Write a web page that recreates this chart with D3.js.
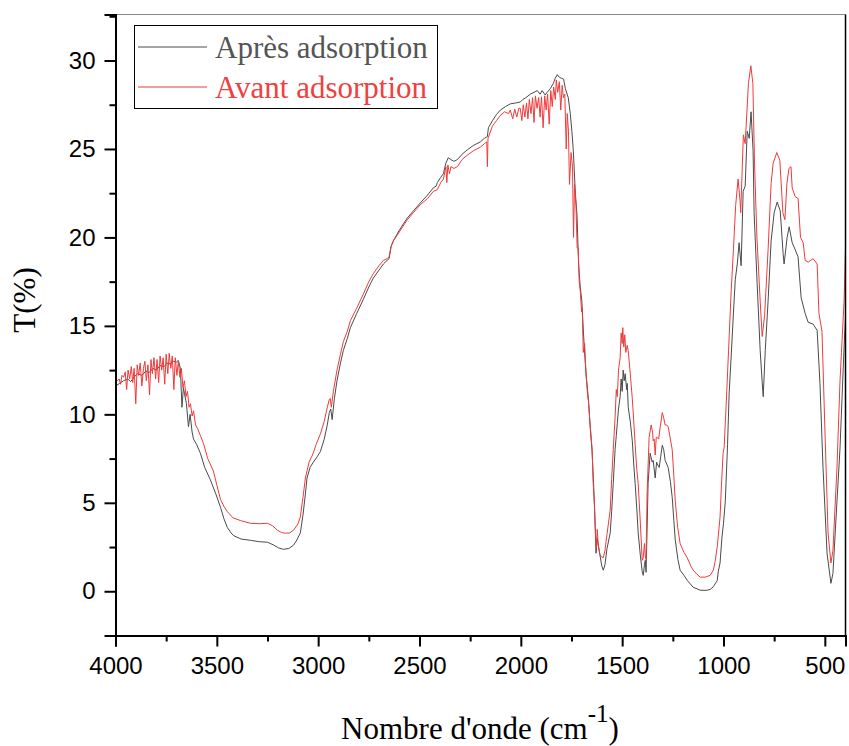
<!DOCTYPE html>
<html>
<head>
<meta charset="utf-8">
<script src="https://cdn.jsdelivr.net/npm/d3@7"></script>
<style>
  html, body { margin: 0; padding: 0; background: #fff; }
  svg { display: block; }
</style>
</head>
<body>
<svg id="chart" width="849" height="746"></svg>
<script>
// spectre IR : [nombre d'onde, T(%)]
const apres = [
  [4000, 11.6], [3980, 11.75], [3960, 11.9], [3940, 12.0], [3925, 11.85], [3905, 12.15], [3890, 12.3],
  [3870, 12.2], [3850, 12.45], [3835, 12.35], [3815, 12.6], [3800, 12.5], [3780, 12.75], [3760, 12.7],
  [3745, 12.9], [3730, 12.85], [3715, 13.0], [3700, 12.95], [3690, 13.05], [3680, 12.6], [3672, 10.4],
  [3665, 11.5], [3660, 11.2], [3650, 10.6], [3640, 9.3], [3632, 10.0], [3622, 9.0], [3615, 8.6],
  [3600, 8.3], [3581, 7.8], [3560, 7.0], [3532, 6.3], [3505, 5.5], [3482, 4.75], [3465, 4.1],
  [3448, 3.6], [3430, 3.3], [3418, 3.15], [3380, 2.95], [3334, 2.88], [3290, 2.8], [3250, 2.77],
  [3221, 2.62], [3195, 2.45], [3171, 2.37], [3145, 2.42], [3122, 2.6], [3105, 2.9], [3088, 3.3],
  [3075, 4.3], [3063, 5.5], [3055, 6.4], [3040, 7.0], [3024, 7.3], [3005, 7.6], [2989, 7.9],
  [2970, 8.6], [2955, 9.4], [2945, 10.1], [2938, 10.3], [2931, 9.7], [2920, 10.9], [2907, 11.9],
  [2890, 12.9], [2876, 13.6], [2856, 14.3], [2841, 14.9], [2810, 15.7], [2777, 16.5], [2750, 17.2],
  [2728, 17.7], [2700, 18.15], [2678, 18.5], [2660, 18.7], [2650, 18.8], [2640, 19.5], [2629, 19.8],
  [2600, 20.4], [2560, 21.1], [2530, 21.5], [2496, 21.95], [2460, 22.4], [2432, 22.8], [2418, 22.9],
  [2412, 23.1], [2395, 23.4], [2382, 23.6], [2370, 24.2], [2358, 24.5], [2345, 24.4], [2330, 24.3],
  [2313, 24.4], [2290, 24.7], [2264, 24.95], [2234, 25.2], [2200, 25.4], [2180, 25.6], [2165, 25.7],
  [2160, 26.2], [2140, 26.6], [2120, 26.95], [2101, 27.2], [2075, 27.4], [2052, 27.55], [2025, 27.6],
  [2003, 27.65], [1990, 27.8], [1975, 27.9], [1953, 28.1], [1935, 28.2], [1919, 28.3], [1905, 28.1],
  [1895, 28.3], [1880, 28.05], [1870, 28.2], [1855, 28.4], [1840, 28.7], [1830, 29.0], [1820, 29.2],
  [1810, 29.05], [1800, 29.0], [1789, 28.95], [1780, 28.4], [1766, 27.9], [1756, 27.0], [1748, 26.0],
  [1741, 24.9], [1731, 22.5], [1723, 21.3], [1715, 18.5], [1707, 17.2], [1699, 16.4], [1691, 14.6],
  [1682, 12.9], [1675, 11.9], [1666, 10.8], [1658, 9.3], [1649, 8.0], [1641, 6.1], [1633, 3.6],
  [1629, 2.15], [1623, 3.0], [1612, 2.2], [1600, 1.4], [1593, 1.19], [1585, 1.5], [1575, 2.4],
  [1559, 3.3], [1552, 4.5], [1544, 6.1], [1535, 8.0], [1529, 8.8], [1524, 9.5], [1518, 10.3],
  [1510, 11.0], [1505, 12.0], [1500, 11.3], [1495, 12.5], [1490, 11.9], [1485, 12.3], [1478, 11.4],
  [1475, 11.75], [1470, 10.4], [1460, 9.6], [1450, 8.5], [1443, 7.2], [1436, 6.1], [1428, 4.7],
  [1421, 3.3], [1410, 2.0], [1401, 1.1], [1396, 0.9], [1390, 1.5], [1386, 1.75], [1382, 1.07],
  [1377, 3.5], [1372, 6.1], [1362, 7.8], [1352, 7.3], [1347, 7.4], [1337, 6.4], [1330, 7.3],
  [1327, 7.2], [1317, 7.0], [1310, 7.6], [1302, 8.25], [1295, 8.0], [1288, 7.4], [1273, 7.0],
  [1262, 6.2], [1253, 5.3], [1245, 4.0], [1238, 2.9], [1225, 1.8], [1214, 1.19], [1195, 0.9],
  [1179, 0.62], [1150, 0.23], [1115, 0.06], [1085, 0.05], [1066, 0.1], [1051, 0.25], [1031, 0.6],
  [1026, 1.1], [1017, 1.6], [1008, 3.0], [1000, 3.84], [991, 5.1], [980, 8.3], [972, 11.2],
  [962, 13.3], [952, 15.5], [942, 17.6], [932, 18.5], [923, 19.7], [913, 18.4], [903, 22.6],
  [893, 22.9], [883, 26.0], [873, 25.6], [864, 27.1], [854, 24.9], [849, 21.4], [834, 17.4],
  [819, 13.6], [809, 11.8], [804, 11.0], [794, 13.6], [780, 16.4], [765, 19.8], [750, 21.4],
  [735, 22.0], [720, 21.5], [706, 19.1], [701, 18.5], [686, 20.0], [676, 20.6], [661, 19.7],
  [646, 19.3], [632, 18.9], [617, 16.6], [597, 15.7], [582, 15.2], [558, 15.1], [538, 14.75],
  [524, 11.75], [509, 7.0], [489, 2.15], [470, 0.45], [460, 1.0], [440, 5.1], [425, 8.1],
  [405, 13.8], [398, 15.5]
];

const avant = [
  [4000, 11.8], [3990, 11.9], [3982, 12.0], [3975, 11.7], [3968, 12.2], [3960, 12.1], [3952, 12.4],
  [3945, 11.4], [3938, 12.5], [3930, 12.0], [3922, 12.7], [3915, 11.8], [3908, 12.6], [3900, 10.6],
  [3893, 12.8], [3886, 12.2], [3878, 12.9], [3870, 11.6], [3862, 12.6], [3855, 13.0], [3848, 11.9],
  [3840, 12.8], [3832, 11.1], [3825, 13.1], [3818, 12.3], [3810, 13.2], [3802, 12.0], [3795, 13.1],
  [3787, 11.8], [3780, 13.3], [3772, 12.5], [3765, 13.2], [3757, 11.7], [3750, 13.4], [3742, 12.3],
  [3735, 13.45], [3727, 12.6], [3720, 13.3], [3712, 11.4], [3705, 13.2], [3697, 12.2], [3690, 13.0],
  [3682, 12.1], [3675, 12.6], [3667, 11.5], [3660, 11.9], [3652, 11.0], [3645, 11.3], [3637, 10.4],
  [3630, 10.6], [3622, 9.9], [3615, 10.2], [3605, 9.4], [3595, 9.2], [3581, 8.8], [3566, 8.36],
  [3545, 7.5], [3517, 6.8], [3500, 6.0], [3482, 5.2], [3465, 4.8], [3448, 4.5], [3420, 4.15],
  [3384, 4.0], [3334, 3.84], [3290, 3.82], [3250, 3.84], [3225, 3.7], [3201, 3.45], [3180, 3.32],
  [3162, 3.28], [3140, 3.3], [3122, 3.45], [3100, 3.8], [3088, 4.2], [3075, 5.3], [3063, 6.4],
  [3045, 7.3], [3028, 7.7], [3010, 8.3], [2989, 8.9], [2970, 9.6], [2955, 10.4], [2945, 10.85],
  [2940, 10.9], [2935, 10.4], [2925, 11.3], [2907, 12.5], [2890, 13.4], [2876, 14.1], [2856, 14.7],
  [2841, 15.3], [2810, 16.0], [2777, 16.8], [2750, 17.5], [2728, 17.95], [2700, 18.4], [2678, 18.7],
  [2660, 18.8], [2650, 18.9], [2640, 19.5], [2629, 19.8], [2600, 20.3], [2560, 21.0], [2530, 21.4],
  [2496, 21.85], [2460, 22.2], [2432, 22.6], [2412, 22.7], [2395, 23.1], [2382, 23.3], [2370, 24.0],
  [2365, 23.1], [2360, 24.1], [2352, 23.6], [2345, 24.0], [2330, 23.9], [2313, 24.0], [2290, 24.4],
  [2264, 24.65], [2234, 24.9], [2200, 25.1], [2180, 25.3], [2168, 25.4], [2165, 24.0], [2162, 25.6],
  [2140, 26.3], [2120, 26.6], [2101, 26.9], [2080, 27.1], [2060, 27.0], [2052, 27.2], [2040, 26.7],
  [2030, 27.25], [2020, 26.8], [2010, 27.3], [2003, 27.3], [1995, 26.6], [1988, 27.5], [1980, 26.8],
  [1972, 27.6], [1965, 26.7], [1958, 27.8], [1950, 27.0], [1942, 27.9], [1935, 26.5], [1928, 28.0],
  [1920, 27.3], [1912, 27.9], [1905, 26.8], [1898, 27.95], [1890, 26.2], [1882, 28.0], [1875, 27.2],
  [1868, 28.1], [1860, 26.4], [1852, 28.3], [1845, 27.4], [1838, 28.5], [1830, 27.8], [1825, 28.9],
  [1818, 28.2], [1810, 28.8], [1803, 27.2], [1796, 28.6], [1790, 27.9], [1783, 28.1], [1776, 25.0],
  [1771, 27.0], [1765, 26.0], [1760, 23.0], [1752, 24.8], [1745, 24.0], [1740, 20.0], [1735, 23.0],
  [1728, 21.8], [1722, 19.4], [1717, 19.4], [1712, 17.5], [1707, 17.0], [1700, 15.8], [1697, 16.0],
  [1692, 13.5], [1685, 14.0], [1678, 12.2], [1670, 11.0], [1667, 10.8], [1658, 9.4], [1648, 8.0],
  [1643, 6.1], [1636, 4.8], [1633, 3.6], [1628, 2.4], [1623, 3.5], [1618, 2.6], [1610, 2.1],
  [1603, 1.95], [1593, 1.9], [1585, 2.3], [1575, 3.2], [1559, 4.6], [1552, 6.3], [1544, 8.0],
  [1535, 9.8], [1529, 11.4], [1524, 11.0], [1518, 12.5], [1510, 13.2], [1505, 14.6], [1500, 14.0],
  [1497, 14.9], [1492, 13.8], [1487, 14.5], [1482, 13.5], [1475, 13.9], [1470, 13.6], [1460, 12.3],
  [1450, 10.9], [1446, 10.2], [1436, 8.3], [1428, 6.9], [1421, 6.1], [1410, 3.8], [1401, 1.75],
  [1396, 1.9], [1390, 2.7], [1386, 2.0], [1382, 1.8], [1377, 5.5], [1367, 8.7], [1357, 9.4],
  [1350, 9.0], [1347, 8.5], [1342, 8.6], [1337, 7.7], [1332, 8.7], [1327, 8.7], [1320, 8.6],
  [1312, 9.3], [1302, 10.1], [1295, 9.8], [1288, 9.4], [1280, 9.4], [1273, 9.3], [1262, 8.6],
  [1253, 8.0], [1245, 6.5], [1238, 5.1], [1226, 3.6], [1214, 2.7], [1195, 2.2], [1179, 1.9],
  [1160, 1.4], [1150, 1.2], [1130, 0.95], [1115, 0.8], [1090, 0.8], [1066, 0.9], [1050, 1.2],
  [1041, 1.7], [1030, 2.6], [1017, 4.2], [1010, 6.0], [1002, 7.8], [997, 8.1], [987, 10.5],
  [975, 13.6], [962, 17.0], [951, 19.3], [940, 21.8], [928, 23.3], [918, 22.0], [915, 21.4],
  [902, 25.8], [893, 25.3], [877, 28.7], [865, 29.7], [855, 28.7], [847, 24.2], [835, 20.0],
  [819, 16.4], [809, 14.4], [797, 15.6], [780, 19.3], [765, 23.05], [755, 24.2], [737, 24.8],
  [722, 24.35], [707, 21.4], [697, 21.0], [687, 23.05], [677, 23.9], [667, 24.0], [661, 22.8],
  [646, 22.3], [632, 22.2], [620, 20.0], [607, 19.7], [597, 18.7], [582, 18.6], [558, 18.8],
  [538, 18.5], [529, 15.7], [514, 14.7], [499, 8.9], [484, 3.3], [470, 1.6], [460, 2.3],
  [440, 7.0], [425, 11.9], [418, 13.5], [405, 16.4], [398, 19.4]
];

const xTicks = [4000, 3500, 3000, 2500, 2000, 1500, 1000, 500];
const xMinor = [3750, 3250, 2750, 2250, 1750, 1250, 750];
const yTicks = [0, 5, 10, 15, 20, 25, 30];
const yMinor = [-2.5, 2.5, 7.5, 12.5, 17.5, 22.5, 27.5, 32.5];
const seriesNames = ['Après adsorption', 'Avant adsorption'];
const seriesColors = ['#4a4a4a', '#f03a3a'];
const legendColors = ['#555555', '#f04040'];

const pLeft = 115.5, pRight = 845.5, pTop = 14.5, pBottom = 635.5;

const svg = d3.select('#chart');

const x = d3.scaleLinear().domain([4000, 398]).range([pLeft, pRight]);
const y = d3.scaleLinear().domain([-2.5, 32.6]).range([pBottom, pTop]);

// clip
svg.append('defs').append('clipPath')
  .attr('id', 'plot-clip')
  .append('rect')
  .attr('x', pLeft).attr('y', pTop)
  .attr('width', pRight - pLeft).attr('height', pBottom - pTop);

// courbes
const line = d3.line()
  .x(d => x(d[0]))
  .y(d => y(d[1]));

const plot = svg.append('g').attr('clip-path', 'url(#plot-clip)');
[apres, avant].forEach((s, i) => {
  plot.append('path')
    .datum(s)
    .attr('d', line)
    .attr('fill', 'none')
    .attr('stroke', seriesColors[i])
    .attr('stroke-width', 1)
    .attr('stroke-linejoin', 'round');
});

// cadre haut / droite
svg.append('line')
  .attr('x1', pLeft).attr('x2', pRight)
  .attr('y1', pTop).attr('y2', pTop)
  .attr('stroke', '#8a8a8a').attr('stroke-width', 1);
svg.append('line')
  .attr('x1', pRight).attr('x2', pRight)
  .attr('y1', pTop).attr('y2', pBottom)
  .attr('stroke', '#000').attr('stroke-width', 1.5);

// axe x
const tickFont = '"Liberation Sans", Arial, sans-serif';
const xAxis = svg.append('g')
  .attr('transform', `translate(0,${pBottom})`)
  .call(d3.axisBottom(x).tickValues(xTicks).tickFormat(d3.format('d')).tickSize(11).tickPadding(10));
svg.append('g')
  .attr('transform', `translate(0,${pBottom})`)
  .call(d3.axisBottom(x).tickValues(xMinor).tickSize(6).tickFormat(''))
  .select('.domain').remove();
xAxis.select('.domain').attr('stroke-width', 2);
xAxis.selectAll('text').attr('font-size', 24).attr('font-family', tickFont).attr('fill', '#000');

// axe y
const yAxis = svg.append('g')
  .attr('transform', `translate(${pLeft},0)`)
  .call(d3.axisLeft(y).tickValues(yTicks).tickFormat(d3.format('d')).tickSize(11).tickPadding(9));
svg.append('g')
  .attr('transform', `translate(${pLeft},0)`)
  .call(d3.axisLeft(y).tickValues(yMinor).tickSize(6).tickFormat(''))
  .select('.domain').remove();
yAxis.select('.domain').attr('stroke-width', 2);
yAxis.selectAll('text').attr('font-size', 24).attr('font-family', tickFont).attr('fill', '#000');
svg.selectAll('.tick line').attr('stroke-width', 2);

// titres
const serif = '"Liberation Serif", "Times New Roman", serif';
const xTitle = svg.append('text')
  .attr('x', 480).attr('y', 739)
  .attr('text-anchor', 'middle')
  .attr('font-family', serif).attr('font-size', 31).attr('fill', '#000');
xTitle.append('tspan').text("Nombre d'onde (cm");
xTitle.append('tspan').attr('dy', -17).attr('font-size', 25).text('-1');
xTitle.append('tspan').attr('dy', 17).text(')');

svg.append('text')
  .attr('transform', 'translate(35,300) rotate(-90)')
  .attr('text-anchor', 'middle')
  .attr('font-family', serif).attr('font-size', 31).attr('fill', '#000')
  .text('T(%)');

// légende
const legend = svg.append('g');
legend.append('rect')
  .attr('x', 134.5).attr('y', 25.5)
  .attr('width', 303).attr('height', 83)
  .attr('fill', '#fff').attr('stroke', '#000').attr('stroke-width', 1);
seriesNames.forEach((name, i) => {
  const ly = 47 + i * 40;
  legend.append('line')
    .attr('x1', 138).attr('x2', 207)
    .attr('y1', ly).attr('y2', ly)
    .attr('stroke', seriesColors[i]).attr('stroke-width', 1);
  legend.append('text')
    .attr('x', 215).attr('y', ly + 11)
    .attr('font-family', serif).attr('font-size', 31)
    .attr('fill', legendColors[i])
    .text(name);
});
</script>
</body>
</html>
